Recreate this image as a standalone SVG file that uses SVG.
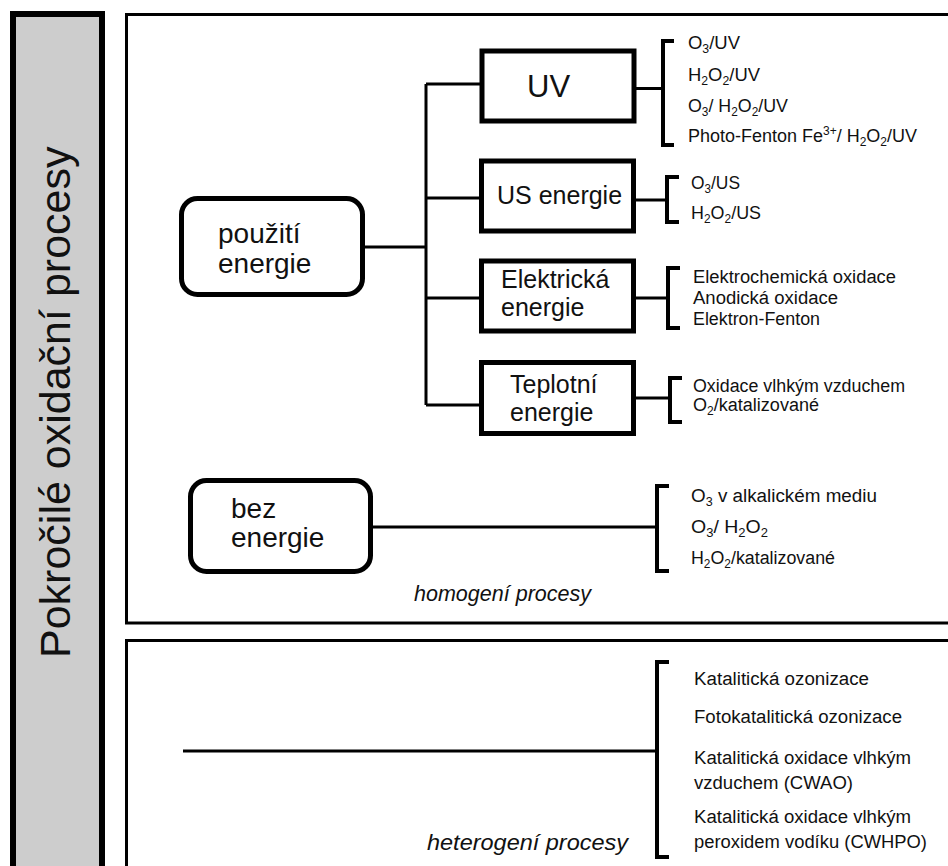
<svg xmlns="http://www.w3.org/2000/svg" width="948" height="866" viewBox="0 0 948 866">
<style>
.conn{stroke:#000;stroke-width:3;fill:none}
.br{stroke:#000;stroke-width:4;fill:none}
.box{fill:#fff;stroke:#000;stroke-width:5}
.panel{fill:#fff;stroke:#000;stroke-width:3}
.t{font-family:"Liberation Sans",Arial,sans-serif;fill:#111}
.s{font-size:18px}
.m{font-size:25px}
.l{font-size:28px}
.it{font-size:22px;font-style:italic}
.sub{font-size:12px}
</style>
<rect width="948" height="866" fill="#fff"/>
<g id="sidebar">
<rect x="13" y="14" width="89" height="900" fill="#cdcdcd" stroke="#000" stroke-width="6"/>
<text class="t" font-size="43" transform="translate(70,658) rotate(-90)" x="0" y="0">Pokročilé oxidační procesy</text>
</g>
<g id="panel-homogeni">
<rect class="panel" x="126.5" y="14.5" width="840" height="608.5"/>
<text class="t it" x="414" y="601" textLength="177" lengthAdjust="spacingAndGlyphs">homogení procesy</text>
</g>
<g id="panel-heterogeni">
<rect class="panel" x="126.5" y="640.5" width="840" height="260"/>
<text class="t it" x="427" y="850" textLength="201" lengthAdjust="spacingAndGlyphs">heterogení procesy</text>
</g>
<g id="connectors">
<path class="conn" d="M365,247 H426 M426,84 V405 M426,84 H480 M426,198 H481 M426,298 H480 M426,405 H480"/>
<path class="conn" d="M636,88.5 H663 M635,200 H667 M634,298 H668 M634,398 H670 M372,527 H657 M183,751 H657"/>
<path class="br" d="M674,41 H663 V145 H674"/>
<path class="br" d="M679,177 H667 V222 H679"/>
<path class="br" d="M680,268 H668 V328 H680"/>
<path class="br" d="M682,378 H670 V422 H682"/>
<path class="br" d="M669,486 H657 V571 H669"/>
<path class="br" d="M669,662 H657 V857 H669"/>
</g>
<g id="node-pouziti">
<rect class="box" x="181.5" y="198.5" width="181" height="96" rx="16"/>
<text class="t l" x="218" y="243">použití</text>
<text class="t l" x="218" y="273">energie</text>
</g>
<g id="node-bez">
<rect class="box" x="190.5" y="480.5" width="180" height="91" rx="16"/>
<text class="t l" x="231" y="518">bez</text>
<text class="t l" x="231" y="547">energie</text>
</g>
<g id="node-uv">
<rect class="box" x="482" y="51" width="152" height="70" stroke-width="6"/>
<text class="t" font-size="31" x="527" y="97">UV</text>
</g>
<g id="node-us">
<rect class="box" x="481.5" y="161" width="152" height="70"/>
<text class="t m" x="497" y="204">US energie</text>
</g>
<g id="node-elektricka">
<rect class="box" x="481.5" y="261" width="152" height="70"/>
<text class="t m" x="501" y="288">Elektrická</text>
<text class="t m" x="501" y="316">energie</text>
</g>
<g id="node-teplotni">
<rect class="box" x="481.5" y="362.5" width="152" height="71"/>
<text class="t m" x="510" y="393">Teplotní</text>
<text class="t m" x="510" y="421">energie</text>
</g>
<g id="list-uv">
<text class="t s" x="688" y="49" textLength="52" lengthAdjust="spacingAndGlyphs">O<tspan class="sub" dy="4">3</tspan><tspan dy="-4">/UV</tspan></text>
<text class="t s" x="688" y="81" textLength="72" lengthAdjust="spacingAndGlyphs">H<tspan class="sub" dy="4">2</tspan><tspan dy="-4">O</tspan><tspan class="sub" dy="4">2</tspan><tspan dy="-4">/UV</tspan></text>
<text class="t s" x="688" y="112" textLength="100" lengthAdjust="spacingAndGlyphs">O<tspan class="sub" dy="4">3</tspan><tspan dy="-4">/ H</tspan><tspan class="sub" dy="4">2</tspan><tspan dy="-4">O</tspan><tspan class="sub" dy="4">2</tspan><tspan dy="-4">/UV</tspan></text>
<text class="t s" x="688" y="142" textLength="229" lengthAdjust="spacingAndGlyphs">Photo-Fenton Fe<tspan class="sub" dy="-7">3+</tspan><tspan dy="7">/ H</tspan><tspan class="sub" dy="4">2</tspan><tspan dy="-4">O</tspan><tspan class="sub" dy="4">2</tspan><tspan dy="-4">/UV</tspan></text>
</g>
<g id="list-us">
<text class="t s" x="691" y="189" textLength="49" lengthAdjust="spacingAndGlyphs">O<tspan class="sub" dy="4">3</tspan><tspan dy="-4">/US</tspan></text>
<text class="t s" x="691" y="219" textLength="70" lengthAdjust="spacingAndGlyphs">H<tspan class="sub" dy="4">2</tspan><tspan dy="-4">O</tspan><tspan class="sub" dy="4">2</tspan><tspan dy="-4">/US</tspan></text>
</g>
<g id="list-elektricka">
<text class="t s" x="693" y="283" textLength="203" lengthAdjust="spacingAndGlyphs">Elektrochemická oxidace</text>
<text class="t s" x="693" y="304" textLength="145" lengthAdjust="spacingAndGlyphs">Anodická oxidace</text>
<text class="t s" x="693" y="325" textLength="127" lengthAdjust="spacingAndGlyphs">Elektron-Fenton</text>
</g>
<g id="list-teplotni">
<text class="t s" x="693" y="392" textLength="212" lengthAdjust="spacingAndGlyphs">Oxidace vlhkým vzduchem</text>
<text class="t s" x="693" y="411" textLength="126" lengthAdjust="spacingAndGlyphs">O<tspan class="sub" dy="4">2</tspan><tspan dy="-4">/katalizované</tspan></text>
</g>
<g id="list-bez">
<text class="t s" x="691" y="502" textLength="186" lengthAdjust="spacingAndGlyphs">O<tspan class="sub" dy="4">3</tspan><tspan dy="-4"> v alkalickém mediu</tspan></text>
<text class="t s" x="691" y="533" textLength="77" lengthAdjust="spacingAndGlyphs">O<tspan class="sub" dy="4">3</tspan><tspan dy="-4">/ H</tspan><tspan class="sub" dy="4">2</tspan><tspan dy="-4">O</tspan><tspan class="sub" dy="4">2</tspan></text>
<text class="t s" x="691" y="564" textLength="144" lengthAdjust="spacingAndGlyphs">H<tspan class="sub" dy="4">2</tspan><tspan dy="-4">O</tspan><tspan class="sub" dy="4">2</tspan><tspan dy="-4">/katalizované</tspan></text>
</g>
<g id="list-heterogeni">
<text class="t s" x="694" y="685" textLength="175" lengthAdjust="spacingAndGlyphs">Katalitická ozonizace</text>
<text class="t s" x="694" y="723" textLength="208" lengthAdjust="spacingAndGlyphs">Fotokatalitická ozonizace</text>
<text class="t s" x="694" y="764" textLength="217" lengthAdjust="spacingAndGlyphs">Katalitická oxidace vlhkým</text>
<text class="t s" x="694" y="789" textLength="159" lengthAdjust="spacingAndGlyphs">vzduchem (CWAO)</text>
<text class="t s" x="694" y="823" textLength="217" lengthAdjust="spacingAndGlyphs">Katalitická oxidace vlhkým</text>
<text class="t s" x="694" y="848" textLength="233" lengthAdjust="spacingAndGlyphs">peroxidem vodíku (CWHPO)</text>
</g>
</svg>
